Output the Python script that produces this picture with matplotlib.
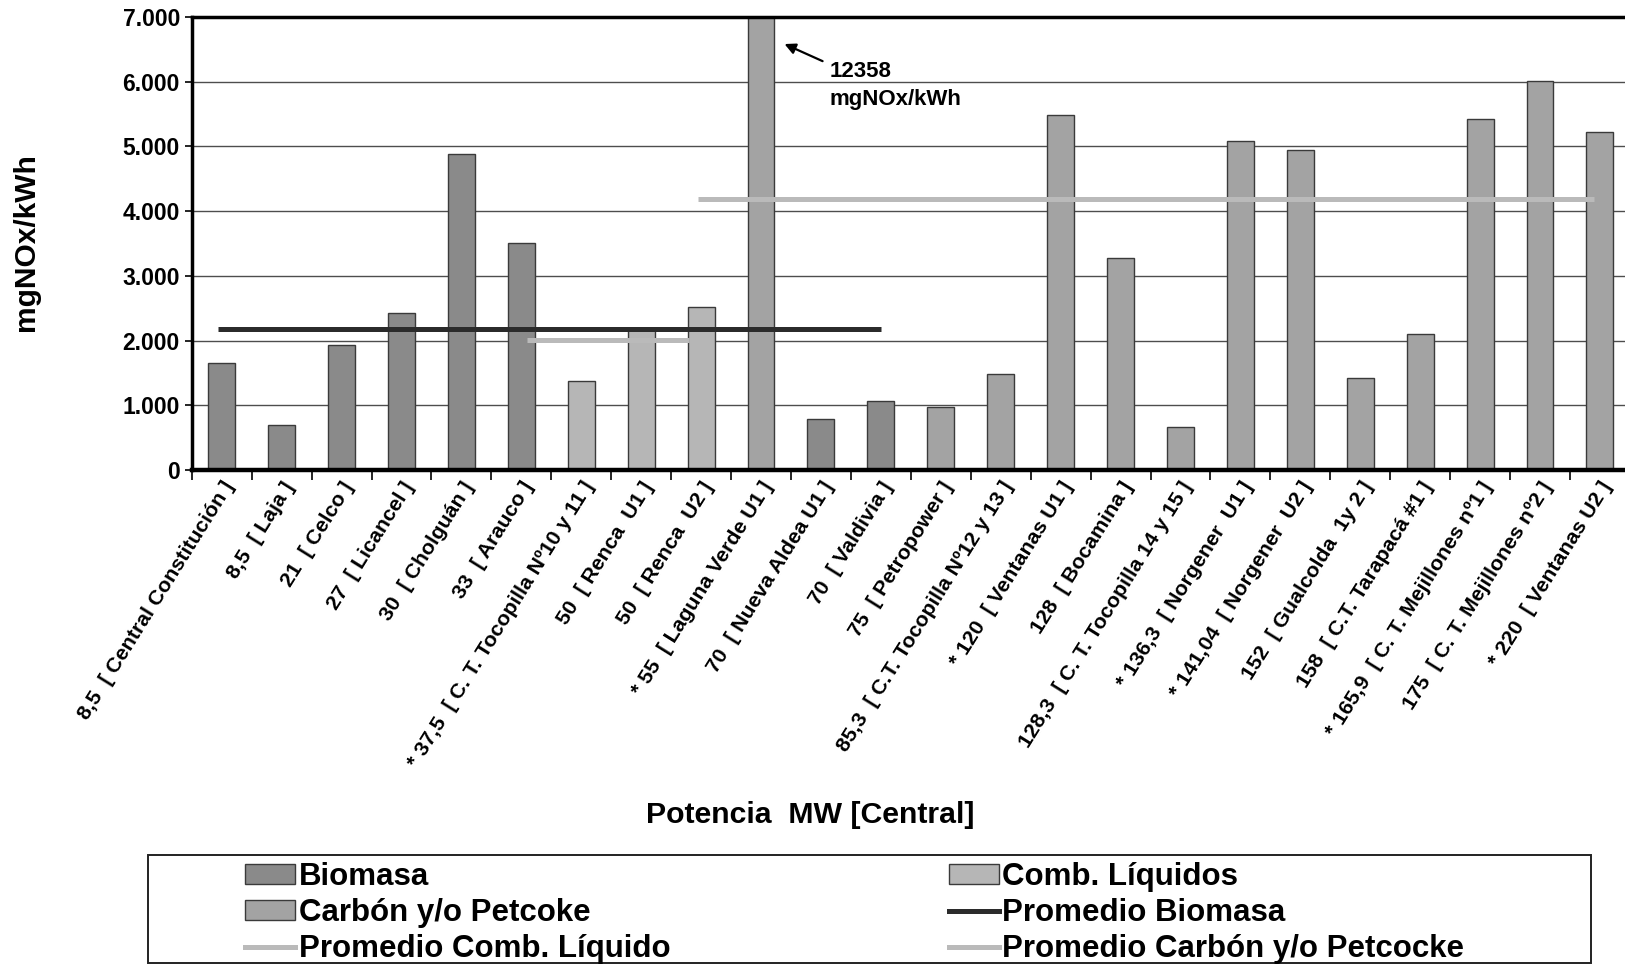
import numpy as np
import matplotlib.pyplot as plt
from matplotlib.patches import Patch, Rectangle
from matplotlib.lines import Line2D

plt.rcParams['font.family'] = ['Liberation Sans', 'DejaVu Sans']
plt.rcParams['font.weight'] = 'bold'

# Data
centrales = [
    "8,5  [ Central Constitución ]", "8,5  [ Laja ]", "21  [ Celco ]", "27  [ Licancel ]",
    "30  [ Cholguán ]", "33  [ Arauco ]", "* 37,5  [ C. T. Tocopilla Nº10 y 11 ]",
    "50  [ Renca  U1 ]", "50  [ Renca  U2 ]", "* 55  [ Laguna Verde U1 ]",
    "70  [ Nueva Aldea U1 ]", "70  [ Valdivia ]", "75  [ Petropower ]",
    "85,3  [ C.T. Tocopilla Nº12 y 13 ]", "* 120  [ Ventanas U1 ]", "128  [ Bocamina ]",
    "128,3  [ C. T. Tocopilla 14 y 15 ]", "* 136,3  [ Norgener  U1 ]",
    "* 141,04  [ Norgener  U2 ]", "152  [ Gualcolda  1y 2 ]", "158  [ C.T. Tarapacá #1 ]",
    "* 165,9  [ C. T. Mejillones nº1 ]", "175  [ C. T. Mejillones nº2 ]", "* 220  [ Ventanas U2 ]",
]
emisiones = [1650, 700, 1930, 2420, 4880, 3500, 1370, 2200, 2520, 12358,
             780, 1070, 980, 1480, 5480, 3280, 660, 5080, 4940, 1420,
             2100, 5420, 6010, 5230]
tipo = ["bio"] * 6 + ["liq"] * 3 + ["coal", "bio", "bio"] + ["coal"] * 12

# averages (value, first category, last category)
prom_biomasa = (2180, -0.07, 11.0)
prom_liquido = (2010, 5.1, 7.8)
prom_carbon = (4190, 7.95, 22.9)

colores = {"bio": "#8a8a8a", "liq": "#b6b6b6", "coal": "#a3a3a3"}

fig = plt.figure(figsize=(16.25, 9.66), dpi=100)
ax = fig.add_axes([0.118, 0.5135, 0.885, 0.4689])

x = np.arange(len(centrales))
ax.bar(x, emisiones, width=0.45, color=[colores[t] for t in tipo],
       edgecolor="#3a3a3a", linewidth=1.0, zorder=2)

ax.plot(prom_biomasa[1:], [prom_biomasa[0]] * 2, color="#2b2b2b", lw=3.6, zorder=3,
        solid_capstyle="butt")
ax.plot(prom_liquido[1:], [prom_liquido[0]] * 2, color="#bababa", lw=3.6, zorder=3,
        solid_capstyle="butt")
ax.plot(prom_carbon[1:], [prom_carbon[0]] * 2, color="#bababa", lw=3.6, zorder=3,
        solid_capstyle="butt")

ax.set_xlim(-0.5, len(centrales) - 0.5)
ax.set_ylim(0, 7000)
ax.set_yticks(np.arange(0, 7001, 1000))
ax.set_yticklabels([f"{int(v):,}".replace(",", ".") for v in np.arange(0, 7001, 1000)],
                   fontsize=16.5)
ax.yaxis.grid(True, color="#4d4d4d", lw=1.0, zorder=1)
ax.set_axisbelow(True)

ax.set_xticks(np.arange(-0.5, len(centrales), 1.0))
ax.set_xticklabels([])
ax.set_xticks(x, minor=True)
ax.set_xticklabels(centrales, minor=True, rotation=58, ha="right", va="top",
                   rotation_mode="anchor", fontsize=15.3)
ax.tick_params(axis="x", which="major", length=7, width=1.2, direction="out")
ax.tick_params(axis="x", which="minor", length=0, pad=6)
ax.tick_params(axis="y", length=5, width=1.2)

for s in ["left", "top"]:
    ax.spines[s].set_linewidth(2.5)
ax.spines["bottom"].set_linewidth(3.2)
ax.spines["right"].set_visible(False)

ax.annotate("", xy=(9.35, 6600), xytext=(10.07, 6300),
            arrowprops=dict(arrowstyle="-|>", color="black", lw=1.6, mutation_scale=16))
ax.text(10.15, 6320, "12358\nmgNOx/kWh", ha="left", va="top", fontsize=16, linespacing=1.45)

fig.text(26 / 1625, 1 - 242 / 966, "mgNOx/kWh", rotation=90, ha="center", va="center",
         fontsize=21.5)
fig.text(810 / 1625, 1 - 815 / 966, "Potencia  MW [Central]", ha="center", va="center",
         fontsize=21.8)

fig.patches.append(Rectangle((148 / 1625, 3 / 966), (1591 - 148) / 1625, (963 - 855) / 966,
                             transform=fig.transFigure, fill=False, edgecolor="#222222",
                             lw=1.4))

handles = [
    Patch(facecolor=colores["bio"], edgecolor="#3a3a3a"),
    Patch(facecolor=colores["coal"], edgecolor="#3a3a3a"),
    Line2D([], [], color="#bababa", lw=3.6),
    Patch(facecolor=colores["liq"], edgecolor="#3a3a3a"),
    Line2D([], [], color="#2b2b2b", lw=3.6),
    Line2D([], [], color="#bababa", lw=3.6),
]
nombres = ["Biomasa", "Carbón y/o Petcoke", "Promedio Comb. Líquido",
           "Comb. Líquidos", "Promedio Biomasa", "Promedio Carbón y/o Petcocke"]
fig.legend(handles, nombres, ncol=2, frameon=False, loc="upper left",
           bbox_to_anchor=(245 / 1625, 1 - 862 / 966), fontsize=22.5,
           handlelength=1.6, handleheight=0.6, handletextpad=0.12,
           labelspacing=0.2, columnspacing=8.9, borderpad=0, borderaxespad=0)

fig.savefig("out.png", dpi=100)
